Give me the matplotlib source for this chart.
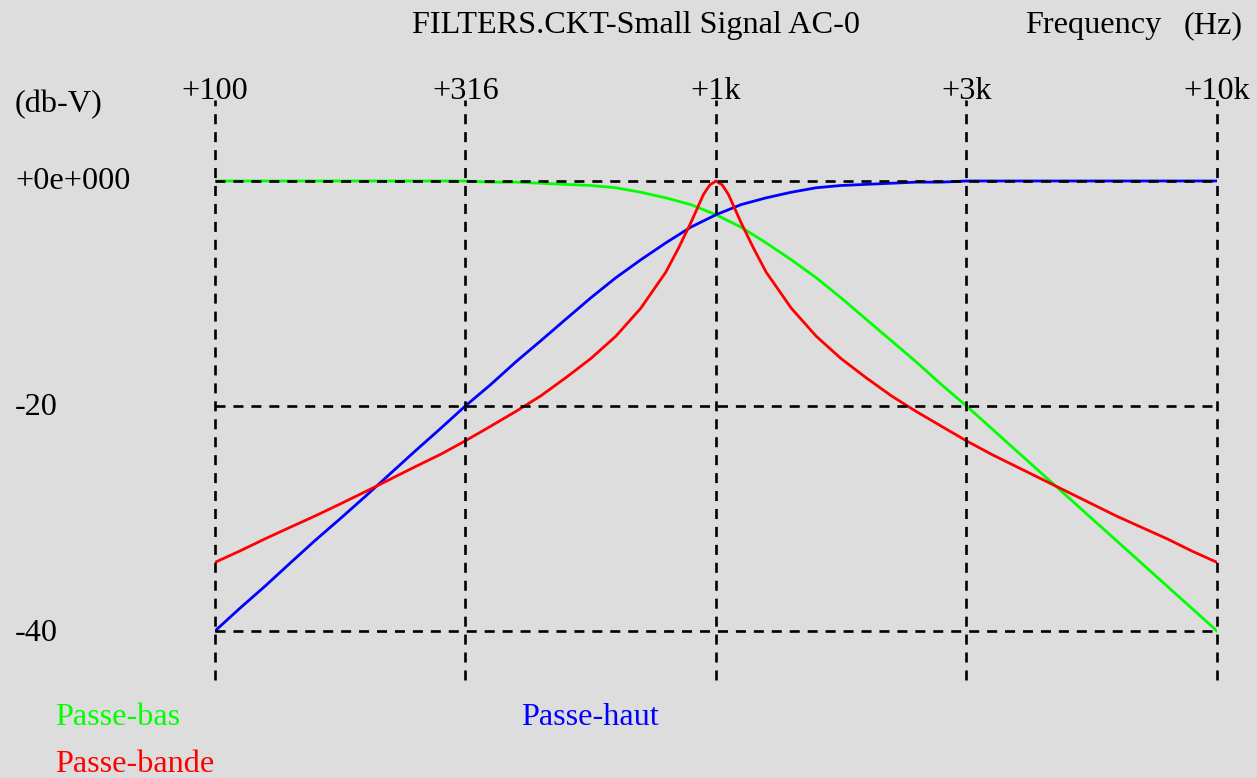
import matplotlib
matplotlib.use('Agg')
import matplotlib.pyplot as plt
from matplotlib.transforms import blended_transform_factory

# frequency points (Hz) for the low-pass / high-pass traces
freq = [100, 112, 126, 141, 158, 178, 200, 224, 251, 282, 316, 355, 398, 447,
        501, 562, 631, 708, 794, 891, 1000, 1122, 1259, 1413, 1585, 1778, 1995,
        2239, 2512, 2818, 3162, 3548, 3981, 4467, 5012, 5623, 6310, 7079, 7943,
        8913, 10000]

# passe-haut (db-V)
hp_db = [-40.0, -38.0, -36.0, -34.0, -32.0, -30.0, -28.0, -26.0, -24.0, -22.0,
         -20.0, -18.1, -16.1, -14.2, -12.3, -10.4, -8.6, -7.0, -5.5, -4.1,
         -3.0, -2.1, -1.5, -1.0, -0.6, -0.4, -0.3, -0.2, -0.1, -0.1,
         0.0, 0.0, 0.0, 0.0, 0.0, 0.0, 0.0, 0.0, 0.0, 0.0, 0.0]

# passe-bas (db-V)
lp_db = [0.0, 0.0, 0.0, 0.0, 0.0, 0.0, 0.0, 0.0, 0.0, 0.0, 0.0,
         -0.1, -0.1, -0.2, -0.3, -0.4, -0.6, -1.0, -1.5, -2.1, -3.0,
         -4.1, -5.5, -7.0, -8.6, -10.4, -12.3, -14.2, -16.1, -18.1, -20.0,
         -22.0, -24.0, -26.0, -28.0, -30.0, -32.0, -34.0, -36.0, -38.0, -40.0]

# passe-bande, denser around the 1k peak
freq_bp = [100, 112, 126, 141, 158, 178, 200, 224, 251, 282, 316, 355, 398,
           447, 501, 562, 631, 708, 794, 841, 891, 944, 972, 1000, 1029, 1059,
           1122, 1189, 1259, 1413, 1585, 1778, 1995, 2239, 2512, 2818, 3162,
           3548, 3981, 4467, 5012, 5623, 6310, 7079, 7943, 8913, 10000]
bp_db = [-33.9, -32.9, -31.8, -30.8, -29.8, -28.7, -27.6, -26.5, -25.4, -24.3,
         -23.1, -21.8, -20.5, -19.1, -17.5, -15.8, -13.8, -11.3, -8.1, -6.0,
         -3.7, -1.2, -0.35, 0.0, -0.35, -1.2, -3.7, -6.0, -8.1, -11.3, -13.8,
         -15.8, -17.5, -19.1, -20.5, -21.8, -23.1, -24.3, -25.4, -26.5, -27.6,
         -28.7, -29.8, -30.8, -31.8, -32.9, -33.9]

x_ticks = [100, 316, 1000, 3162, 10000]
x_labels = ['+100', '+316', '+1k', '+3k', '+10k']
y_ticks = [0, -20, -40]
y_labels = ['+0e+000', '-20', '-40']

W, H = 1257, 778
bg = '#dddddd'
plt.rcParams['font.family'] = ['Liberation Serif', 'DejaVu Serif']
fs = 23.2

fig = plt.figure(figsize=(W / 100, H / 100), dpi=100, facecolor=bg)
ax = fig.add_axes([215 / W, 1 - 680 / H, 1002 / W, 580 / H])
ax.set_facecolor(bg)
ax.set_xscale('log')
ax.set_xlim(100, 10000)
ax.set_ylim(-44.36, 7.2)
ax.axis('off')

ax.plot(freq, lp_db, color='#00ff00', lw=2.0, zorder=2)
ax.plot(freq, hp_db, color='#0000ff', lw=2.0, zorder=2)
ax.plot(freq_bp, bp_db, color='#ff0000', lw=2.0, zorder=2)

# dashed grid drawn over the traces
dash = (3.8, 3.0)
for xv in x_ticks:
    ax.axvline(xv, color='black', lw=1.9, dashes=dash, clip_on=False, zorder=3)
for yv in y_ticks:
    ax.plot([100, 10000], [yv, yv], color='black', lw=1.9, dashes=dash,
            clip_on=False, zorder=3)

def fy(px):
    return 1 - px / H

tx = blended_transform_factory(ax.transData, fig.transFigure)
for xv, lab in zip(x_ticks, x_labels):
    ax.text(xv, fy(99), lab, transform=tx, ha='center', va='baseline', fontsize=fs)

for px, lab in zip([189, 415, 641], y_labels):
    fig.text(15 / W, fy(px), lab, ha='left', va='baseline', fontsize=fs)

fig.text(15 / W, fy(112), '(db-V)', ha='left', va='baseline', fontsize=fs)
fig.text(412 / W, fy(33), 'FILTERS.CKT-Small Signal AC-0', ha='left',
         va='baseline', fontsize=fs)
fig.text(1025 / W, fy(33), 'Frequency', ha='left', va='baseline', fontsize=fs)
fig.text(1243 / W, fy(33), '(Hz)', ha='right', va='baseline', fontsize=fs)

fig.text(55 / W, fy(725), 'Passe-bas', color='#00ff00', ha='left',
         va='baseline', fontsize=fs)
fig.text(521 / W, fy(725), 'Passe-haut', color='#0000ff', ha='left',
         va='baseline', fontsize=fs)
fig.text(55 / W, fy(772), 'Passe-bande', color='#ff0000', ha='left',
         va='baseline', fontsize=fs)

fig.savefig('out.png', dpi=100, facecolor=bg)
